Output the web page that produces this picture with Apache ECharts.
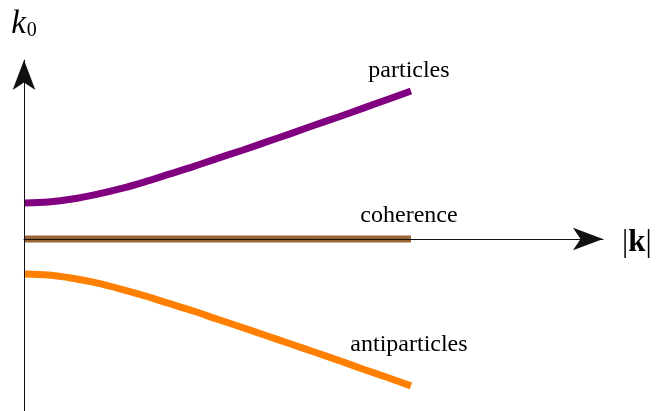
<!DOCTYPE html>
<html>
<head>
<meta charset="utf-8">
<script src="https://cdn.jsdelivr.net/npm/echarts@6/dist/echarts.min.js"></script>
<style>
  html, body { margin: 0; padding: 0; background: #fff; }
  #chart { width: 657px; height: 411px; }
</style>
</head>
<body>
<div id="chart"></div>
<script>
// momentum |k| along the horizontal axis
var kValues = [0, 0.25, 0.5, 0.75, 1, 1.25, 1.5, 1.75, 2, 2.25, 2.5, 2.75, 3, 3.25, 3.5, 3.75, 4];
// energy k0
var particles = [1.00, 1.03, 1.11, 1.24, 1.40, 1.59, 1.80, 2.01, 2.24, 2.46, 2.69, 2.92, 3.16, 3.39, 3.63, 3.87, 4.11];
var antiparticles = [-0.97, -1.00, -1.09, -1.22, -1.39, -1.58, -1.79, -2.00, -2.23, -2.45, -2.68, -2.91, -3.14, -3.37, -3.61, -3.84, -4.08];
var coherence = [0, 0, 0, 0, 0, 0, 0, 0, 0, 0, 0, 0, 0, 0, 0, 0, 0];
var seriesNames = ["particles", "coherence", "antiparticles"];

var myChart = echarts.init(document.getElementById("chart"));

function pairs(ys) {
  return kValues.map(function (k, i) { return [k, ys[i]]; });
}

var serif = "Liberation Serif";
var labelStyle = {
  show: true,
  fontFamily: serif,
  fontSize: 24,
  color: "#000",
  align: "center",
  verticalAlign: "middle",
  distance: 0
};

function curve(name, ys, color, offset) {
  return {
    name: name,
    type: "line",
    data: pairs(ys),
    smooth: 0.3,
    showSymbol: false,
    symbol: "none",
    lineStyle: { color: color, width: 7 },
    endLabel: Object.assign({ formatter: name, offset: offset }, labelStyle),
    z: 2
  };
}

var option = {
  animation: false,
  backgroundColor: "#fff",
  grid: {
    left: 24, top: 60.1, width: 579, height: 358.9,
    containLabel: false,
    outerBoundsMode: "none"
  },
  xAxis: {
    type: "value",
    min: 0,
    max: 5.985,
    z: 5,
    name: "{b|\u007c}{k|k}{b|\u007c}",
    nameLocation: "end",
    nameGap: 19,
    nameTextStyle: {
      padding: [8, 0, 0, 0],
      rich: {
        b: { fontFamily: serif, fontSize: 31, color: "#000" },
        k: { fontFamily: serif, fontSize: 31, fontWeight: "bold", color: "#000" }
      }
    },
    axisLine: {
      show: true,
      onZero: true,
      symbol: ["none", "arrow"],
      symbolSize: [17, 30],
      lineStyle: { color: "#111", width: 1 }
    },
    axisTick: { show: false },
    axisLabel: { show: false },
    splitLine: { show: false }
  },
  yAxis: {
    type: "value",
    min: -5,
    max: 4.97,
    z: 5,
    name: "{k|k}{s|0}",
    nameLocation: "end",
    nameGap: 19,
    nameTextStyle: {
      rich: {
        k: { fontFamily: serif, fontSize: 33, fontStyle: "italic", color: "#000" },
        s: { fontFamily: serif, fontSize: 20, color: "#000", padding: [13, 0, 0, 1] }
      }
    },
    axisLine: {
      show: true,
      onZero: false,
      symbol: ["none", "arrow"],
      symbolSize: [17, 30],
      lineStyle: { color: "#111", width: 1 }
    },
    axisTick: { show: false },
    axisLabel: { show: false },
    splitLine: { show: false }
  },
  series: [
    curve(seriesNames[0], particles, "#800080", [-2, -20]),
    curve(seriesNames[1], coherence, "#996633", [-2, -23]),
    curve(seriesNames[2], antiparticles, "#ff8000", [-2, -41])
  ]
};

myChart.setOption(option);
</script>
</body>
</html>
